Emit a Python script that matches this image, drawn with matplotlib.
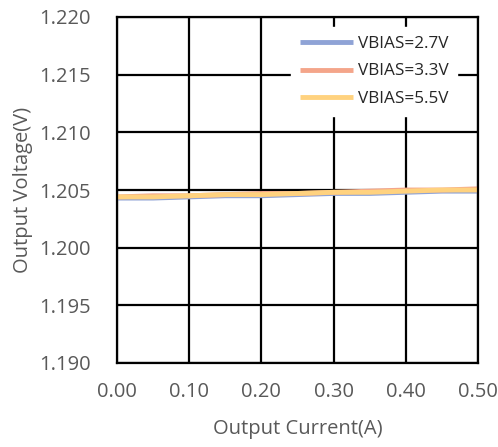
import matplotlib.pyplot as plt

# data
current = [0.00, 0.05, 0.10, 0.15, 0.20, 0.25, 0.30, 0.35, 0.40, 0.45, 0.50]
v_27 = [1.2043, 1.2043, 1.2044, 1.2045, 1.2045, 1.2046, 1.2047, 1.2047, 1.2048, 1.2049, 1.2049]
v_33 = [1.2044, 1.2045, 1.2045, 1.2046, 1.2047, 1.2047, 1.2048, 1.2049, 1.2050, 1.2050, 1.2051]
v_55 = [1.2044, 1.2044, 1.2045, 1.2046, 1.2046, 1.2047, 1.2048, 1.2048, 1.2049, 1.2050, 1.2050]

labels = ["VBIAS=2.7V", "VBIAS=3.3V", "VBIAS=5.5V"]
colors = ["#8fa3d6", "#f4a58a", "#ffd27f"]

xticks = [0.0, 0.1, 0.2, 0.3, 0.4, 0.5]
yticks = [1.190, 1.195, 1.200, 1.205, 1.210, 1.215, 1.220]

plt.rcParams["font.family"] = ["Open Sans", "DejaVu Sans"]
txt = "#595959"

W, H = 498, 447
fig = plt.figure(figsize=(W / 100, H / 100), dpi=100)
# axes box in pixels: left 117, right 478, top 17, bottom 363
ax = fig.add_axes([117 / W, (H - 363) / H, (478 - 117) / W, (363 - 17) / H])

for ys, lab, c in zip([v_27, v_33, v_55], labels, colors):
    ax.plot(current, ys, color=c, lw=3.5, label=lab, solid_capstyle="butt")

ax.set_xlim(0, 0.5)
ax.set_ylim(1.190, 1.220)
ax.set_xticks(xticks)
ax.set_yticks(yticks)
ax.set_xticklabels([f"{v:.2f}" for v in xticks])
ax.set_yticklabels([f"{v:.3f}" for v in yticks])
ax.grid(True, color="black", lw=1.6)
ax.set_axisbelow(True)
for s in ax.spines.values():
    s.set_color("black")
    s.set_linewidth(1.6)
ax.tick_params(length=0, labelsize=14.5, colors=txt)
ax.tick_params(axis="y", pad=19)
ax.tick_params(axis="x", pad=14)

ax.set_xlabel("Output Current(A)", fontsize=14.5, color=txt, labelpad=12)
ax.set_ylabel("Output Voltage(V)", fontsize=14.5, color=txt, labelpad=4)

leg = ax.legend(loc="upper left", bbox_to_anchor=(291 / W, 1 - 27 / H),
                bbox_transform=fig.transFigure, frameon=True, fontsize=12.3,
                handlelength=3.1, handletextpad=0.3, labelspacing=0.7,
                borderpad=0.5, borderaxespad=0, fancybox=False)
leg.get_frame().set_facecolor("white")
leg.get_frame().set_edgecolor("white")
leg.get_frame().set_alpha(1)
for t in leg.get_texts():
    t.set_color("#262626")

fig.savefig("out.png", dpi=100)
